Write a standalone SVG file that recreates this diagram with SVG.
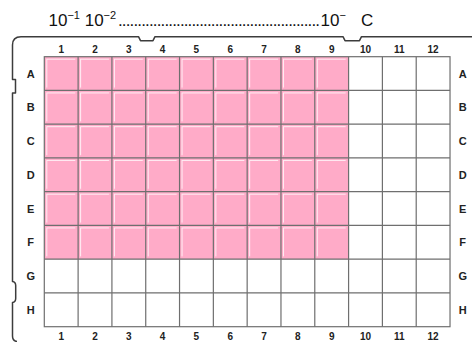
<svg xmlns="http://www.w3.org/2000/svg" width="472" height="342" viewBox="0 0 472 342">
<style>
.title{font-family:"Liberation Sans",Arial,sans-serif;font-size:17px;fill:#111}
.lab{font-family:"Liberation Sans",Arial,sans-serif;font-weight:bold;fill:#222;text-anchor:middle}
.col{font-size:10px}
.row{font-size:11px}
.grid{fill:none;stroke:#6f6f6f;stroke-width:1.2}
.outline{fill:none;stroke:#3c3c3c;stroke-width:1.5;stroke-linejoin:round}
</style>
<defs>
<pattern id="pk" x="44.3" y="56.7" width="33.81" height="33.75" patternUnits="userSpaceOnUse">
<rect x="0" y="0" width="33.81" height="33.75" fill="#FFABC8"/>
<polyline points="2.5,31 2.5,2.5 31,2.5" fill="none" stroke="#fff" stroke-width="1" opacity="0.8"/>
</pattern>
</defs>
<rect width="472" height="342" fill="#fff"/>

<!-- title -->
<text class="title" x="48.5" y="26">10<tspan dy="-7" font-size="11">−1</tspan><tspan dy="7"> 10</tspan><tspan dy="-7" font-size="11">−2</tspan></text>
<text class="title" x="118" y="26" textLength="202" lengthAdjust="spacing">....................................................</text>
<text class="title" x="320.5" y="26">10<tspan dy="-7" font-size="11">−</tspan></text>
<text class="title" x="361" y="26">C</text>

<!-- plate outline -->
<path class="outline" d="M472 36.7 L361.5 36.7 L359.5 40.7 L345 40.7 L343 36.7 L155 36.7 L153 40.7 L140.5 40.7 L138.5 36.7 L21 36.7 Q12.5 36.7 12.5 45 L12.5 79.5 L15.5 79.5 L15.5 93 L12.5 93 L12.5 281.5 Q15.7 282 15.7 285.5 L15.7 298.5 Q15.7 302 12.5 302.5 L12.5 336 Q12.5 341 17 341.5"/>

<!-- pink wells -->
<rect x="44.3" y="56.7" width="304.29" height="202.5" fill="url(#pk)"/>

<!-- grid -->
<g id="grid">
<rect class="grid" x="44.3" y="56.7" width="405.72" height="270"/>
<path class="grid" d="M78.11 56.7V326.7M111.92 56.7V326.7M145.73 56.7V326.7M179.54 56.7V326.7M213.35 56.7V326.7M247.16 56.7V326.7M280.97 56.7V326.7M314.78 56.7V326.7M348.59 56.7V326.7M382.4 56.7V326.7M416.21 56.7V326.7M44.3 90.45H450.02M44.3 124.2H450.02M44.3 157.95H450.02M44.3 191.7H450.02M44.3 225.45H450.02M44.3 259.2H450.02M44.3 292.95H450.02"/>
</g>

<!-- column labels -->
<g class="lab col">
<text x="61.2" y="52.5">1</text><text x="95" y="52.5">2</text><text x="128.8" y="52.5">3</text><text x="162.6" y="52.5">4</text><text x="196.4" y="52.5">5</text><text x="230.3" y="52.5">6</text><text x="264.1" y="52.5">7</text><text x="297.9" y="52.5">8</text><text x="331.7" y="52.5">9</text><text x="365.5" y="52.5">10</text><text x="399.3" y="52.5">11</text><text x="433.1" y="52.5">12</text>
<text x="61.2" y="339.5">1</text><text x="95" y="339.5">2</text><text x="128.8" y="339.5">3</text><text x="162.6" y="339.5">4</text><text x="196.4" y="339.5">5</text><text x="230.3" y="339.5">6</text><text x="264.1" y="339.5">7</text><text x="297.9" y="339.5">8</text><text x="331.7" y="339.5">9</text><text x="365.5" y="339.5">10</text><text x="399.3" y="339.5">11</text><text x="433.1" y="339.5">12</text>
</g>

<!-- row labels -->
<g class="lab row">
<text x="30.7" y="77.6">A</text><text x="30.7" y="111.3">B</text><text x="30.7" y="145.1">C</text><text x="30.7" y="178.8">D</text><text x="30.7" y="212.6">E</text><text x="30.7" y="246.3">F</text><text x="30.7" y="280.1">G</text><text x="30.7" y="313.8">H</text>
<text x="462.7" y="77.6">A</text><text x="462.7" y="111.3">B</text><text x="462.7" y="145.1">C</text><text x="462.7" y="178.8">D</text><text x="462.7" y="212.6">E</text><text x="462.7" y="246.3">F</text><text x="462.7" y="280.1">G</text><text x="462.7" y="313.8">H</text>
</g>
</svg>
